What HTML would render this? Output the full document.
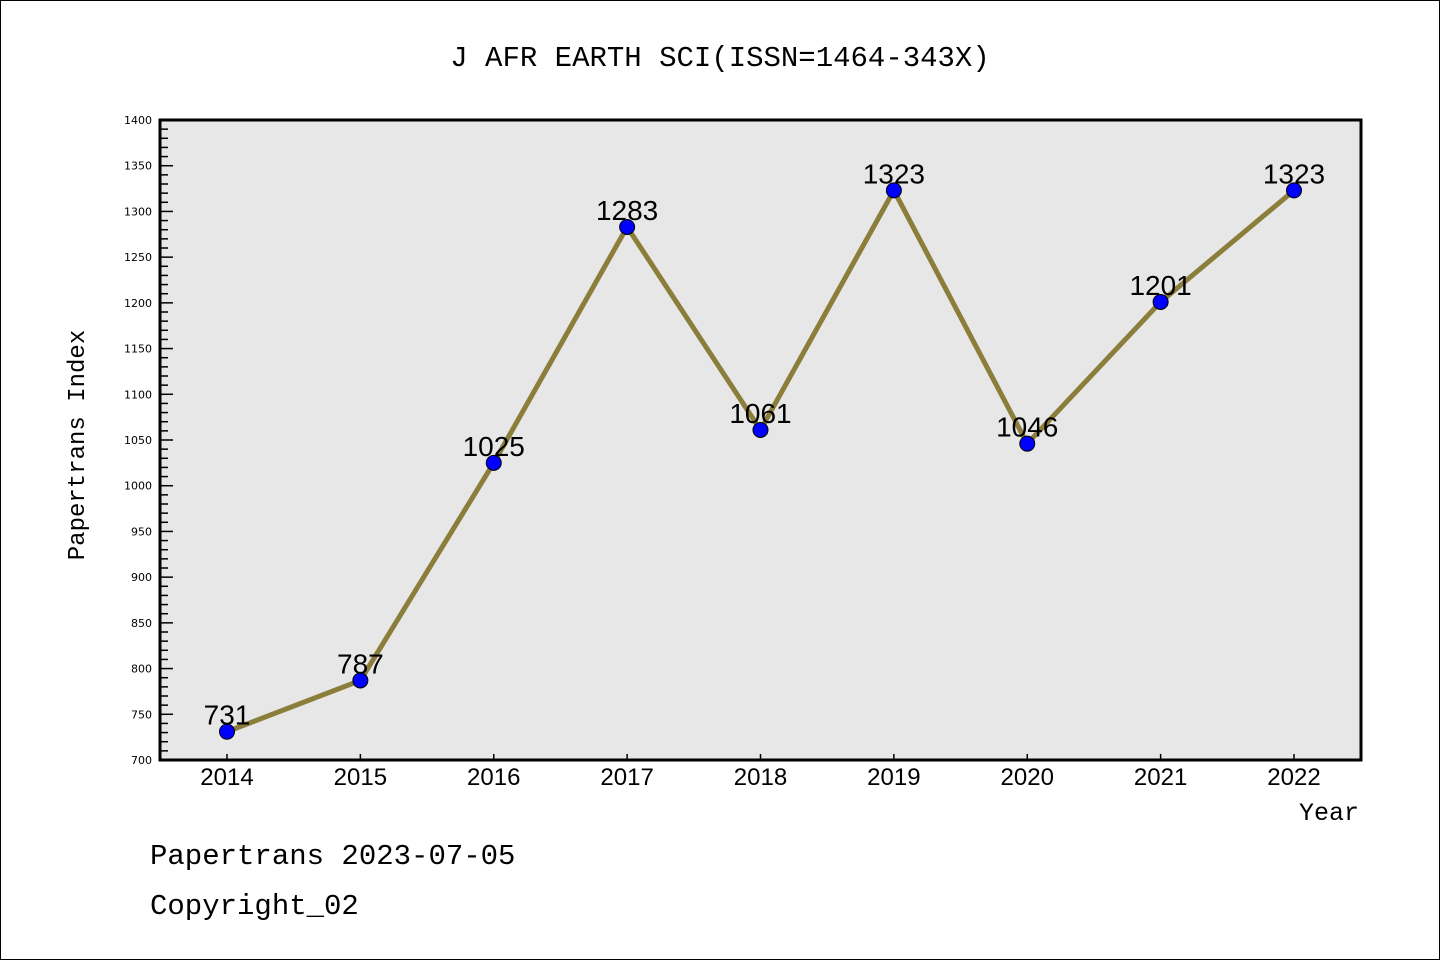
<!DOCTYPE html>
<html><head><meta charset="utf-8"><style>
body{margin:0;background:#fff}
svg{display:block;font-family:"Liberation Mono","DejaVu Sans Mono",monospace}
</style></head><body>
<svg id="c" width="1440" height="960">
<rect x="0.5" y="0.5" width="1439" height="959" fill="#fff" stroke="#000"/>
<text x="720" y="66" text-anchor="middle" font-size="29">J AFR EARTH SCI(ISSN=1464-343X)</text>
<rect x="160" y="120" width="1201" height="640" fill="#e7e7e7"/>
<g id="ticks"></g>
<g id="series"></g>
<rect x="160" y="120" width="1201" height="640" fill="none" stroke="#000" stroke-width="3"/>
<text transform="translate(84,445) rotate(-90)" text-anchor="middle" font-size="24">Papertrans Index</text>
<text x="1359" y="820" text-anchor="end" font-size="25">Year</text>
<text x="150" y="864" font-size="29">Papertrans 2023-07-05</text>
<text x="150" y="914" font-size="29">Copyright_02</text>
</svg>
<script>
const categories=["2014","2015","2016","2017","2018","2019","2020","2021","2022"];
const values=[731,787,1025,1283,1061,1323,1046,1201,1323];
const yTicks=[700,750,800,850,900,950,1000,1050,1100,1150,1200,1250,1300,1350,1400];
const NS="http://www.w3.org/2000/svg";
const yMin=700,yMax=1400,plotTop=120,plotBot=760;
function ys(v){return plotBot-(v-yMin)/(yMax-yMin)*(plotBot-plotTop);}
function xs(i){return 227+i*(1294-227)/(categories.length-1);}
function mk(t,a,p){const e=document.createElementNS(NS,t);for(const k in a)e.setAttribute(k,a[k]);p.appendChild(e);return e;}
const tg=document.getElementById('ticks'),sg=document.getElementById('series');
for(let v=yMin;v<=yMax;v+=10){
  const major=(v%50===0);
  const l=mk('line',{x1:160,x2:major?173:168,y1:ys(v),y2:ys(v),stroke:'#000','stroke-width':1.5},tg);
  
  
}
yTicks.forEach(v=>{
  const t=mk('text',{x:152,y:ys(v)+4,'text-anchor':'end','font-size':11,'font-family':'DejaVu Sans,sans-serif'},tg);
  t.textContent=v;
  
  
});
categories.forEach((c,i)=>{
  const l=mk('line',{x1:xs(i),x2:xs(i),y1:plotBot,y2:plotBot-6,stroke:'#000','stroke-width':1.5},tg);
  
  
  const t=mk('text',{x:xs(i),y:785,'text-anchor':'middle','font-size':24,'font-family':'Liberation Sans,sans-serif'},tg);
  t.textContent=c;
  
  
});
const pl=mk('polyline',{points:values.map((v,i)=>xs(i)+','+ys(v)).join(' '),fill:'none',stroke:'#8b7d3a','stroke-width':5},sg);


values.forEach((v,i)=>{
  const c=mk('circle',{cx:xs(i),cy:ys(v),r:7.5,fill:'#0000ff',stroke:'#000','stroke-width':1},sg);
  
  
  const t=mk('text',{x:xs(i),y:ys(v)-7,'text-anchor':'middle','font-size':28,'font-family':'Liberation Sans,sans-serif'},sg);
  t.textContent=v;
  
  
});
</script>
</body></html>
